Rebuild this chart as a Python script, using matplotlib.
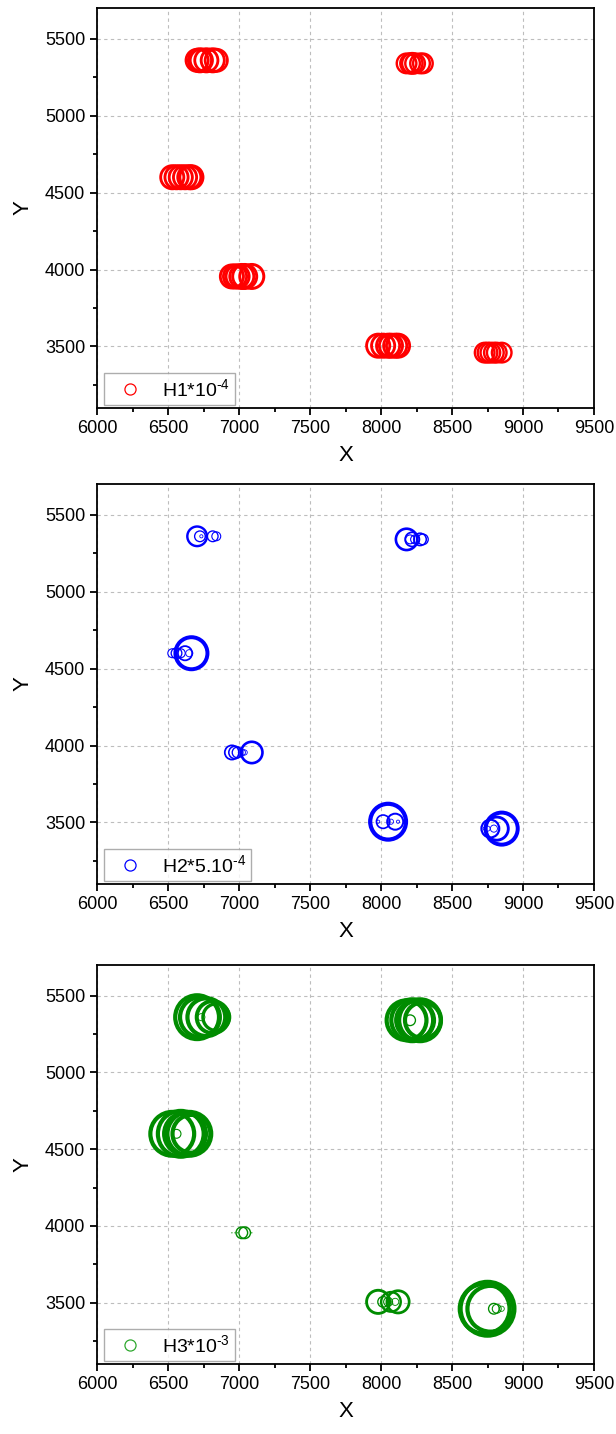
import matplotlib
matplotlib.use('Agg')
import matplotlib.pyplot as plt
from matplotlib.lines import Line2D
from matplotlib.ticker import MultipleLocator
import numpy as np

plt.rcParams['font.family'] = ['Liberation Sans', 'DejaVu Sans']
plt.rcParams['mathtext.fontset'] = 'custom'
plt.rcParams['mathtext.rm'] = 'Liberation Sans'
plt.rcParams['mathtext.it'] = 'Liberation Sans:italic'
plt.rcParams['mathtext.bf'] = 'Liberation Sans:bold'

# Well coordinates (six clusters of six wells)
X = [6705, 6725, 6735, 6770, 6815, 6840,
     8180, 8205, 8220, 8240, 8275, 8295,
     6530, 6560, 6590, 6620, 6650, 6665,
     6950, 6972, 6990, 7020, 7040, 7090,
     7980, 8015, 8050, 8070, 8100, 8120,
     8730, 8750, 8770, 8795, 8815, 8850]
Y = [5360] * 6 + [5340] * 6 + [4600] * 6 + [3955] * 6 + [3505] * 6 + [3460] * 6

# Scaled bubble values (H * factor)
H1s = [25, 26, 25, 26, 26, 25,
       22, 22, 23, 22, 22, 22,
       26, 26, 26, 26, 26, 26,
       26, 26, 26, 27, 27, 27,
       26, 26, 26, 26, 26, 26,
       22, 22, 22, 22, 22, 22]
H2s = [22, 12, 4, 3, 12, 10,
       24, 10, 16, 10, 14, 12,
       10, 12, 10, 16, 8, 36,
       16, 14, 12, 8, 6, 24,
       4, 15, 40, 6, 18, 4,
       4, 6, 20, 8, 26, 36]
H3s = [48, 44, 8, 42, 36, 30,
       44, 12, 46, 42, 46, 40,
       48, 10, 50, 46, 48, 42,
       1, 1, 1, 13, 13, 1,
       26, 12, 10, 22, 8, 25,
       54, 58, 50, 12, 10, 6]

series = [
    (H1s, '#FF0000', r'H1*10$^{\text{-}4}$'),
    (H2s, '#0000FF', r'H2*5.10$^{\text{-}4}$'),
    (H3s, '#008C00', r'H3*10$^{\text{-}3}$'),
]
legend_colors = ['#FF0000', '#0000FF', '#2EA82E']

W, H = 616, 1434
fig = plt.figure(figsize=(W / 100, H / 100), dpi=100)
tops = [8, 484, 965]
bottoms = [408, 884, 1364]
left_px, right_px = 97, 594

for i, (vals, col, lab) in enumerate(series):
    ax = fig.add_axes([left_px / W, 1 - bottoms[i] / H, (right_px - left_px) / W,
                       (bottoms[i] - tops[i]) / H])
    d = np.array(vals, dtype=float)
    lw_px = np.clip(0.11 * d, 0.8, 4.2)
    lw = lw_px * 0.72
    s = (np.maximum(d - lw_px, 0.5) * 0.72) ** 2
    ax.scatter(X, Y, s=s, facecolors='none', edgecolors=col, linewidths=lw, zorder=3)
    ax.set_xlim(6000, 9500)
    ax.set_ylim(3100, 5700)
    ax.xaxis.set_major_locator(MultipleLocator(500))
    ax.xaxis.set_minor_locator(MultipleLocator(250))
    ax.yaxis.set_major_locator(MultipleLocator(500))
    ax.yaxis.set_minor_locator(MultipleLocator(250))
    ax.set_yticks([3500, 4000, 4500, 5000, 5500])
    ax.grid(True, which='major', color='#BDBDBD', linestyle=(0, (3, 3)), linewidth=0.8)
    ax.set_axisbelow(True)
    ax.tick_params(which='major', direction='out', length=5, width=1.3, labelsize=13,
                   top=False, right=False)
    ax.tick_params(which='minor', direction='out', length=3, width=1.3, top=False, right=False)
    for sp in ax.spines.values():
        sp.set_linewidth(1.3)
    ax.set_xlabel('X', fontsize=16, labelpad=6)
    ax.set_ylabel('Y', fontsize=16, labelpad=8)
    h = Line2D([], [], marker='o', linestyle='none', markersize=8, markerfacecolor='none',
               markeredgecolor=legend_colors[i], markeredgewidth=0.9)
    leg = ax.legend([h], [lab], loc='lower left', bbox_to_anchor=(7 / 497, 3 / 400),
                    borderaxespad=0, fontsize=14, frameon=True, fancybox=False,
                    edgecolor='#999999', handletextpad=0.53,
                    borderpad=0.25, handlelength=2.2)
    leg.get_frame().set_linewidth(1.0)

fig.savefig('out.png', dpi=100)
